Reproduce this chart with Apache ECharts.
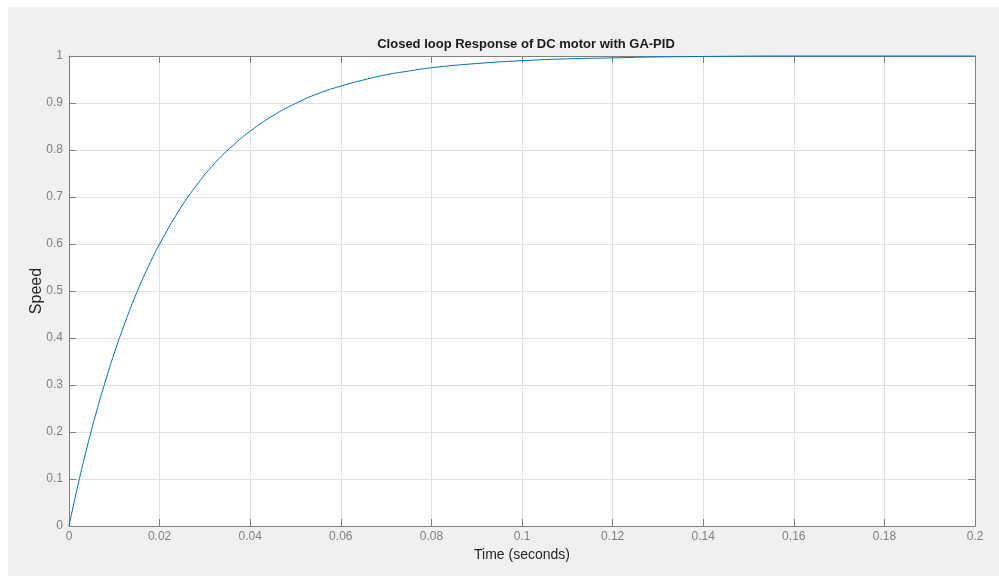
<!DOCTYPE html>
<html>
<head>
<meta charset="utf-8">
<script src="https://cdn.jsdelivr.net/npm/echarts@6/dist/echarts.min.js"></script>
<style>
  html, body { margin: 0; padding: 0; background: #ffffff; }
  #chart { position: absolute; left: 8px; top: 7px; width: 991px; height: 569px; }
</style>
</head>
<body>
<div id="chart"></div>
<script>
// Step response samples: time (s) and speed
const timeValues = [0, 0.002, 0.004, 0.006, 0.008, 0.010, 0.012, 0.014, 0.016, 0.018,
  0.020, 0.024, 0.028, 0.032, 0.036, 0.040, 0.045, 0.050, 0.055, 0.060,
  0.065, 0.070, 0.075, 0.080, 0.090, 0.100, 0.110, 0.120, 0.130, 0.140, 0.160, 0.200];
const speedValues = [0, 0.088, 0.168, 0.241, 0.307, 0.368, 0.423, 0.474, 0.520, 0.562,
  0.600, 0.667, 0.723, 0.770, 0.808, 0.840, 0.873, 0.899, 0.920, 0.936,
  0.949, 0.960, 0.968, 0.975, 0.984, 0.990, 0.994, 0.996, 0.998, 0.999, 1.0, 1.0];

const xTickLabels = ['0', '0.02', '0.04', '0.06', '0.08', '0.1', '0.12', '0.14', '0.16', '0.18', '0.2'];
const yTickLabels = ['0', '0.1', '0.2', '0.3', '0.4', '0.5', '0.6', '0.7', '0.8', '0.9', '1'];

const fontFamily = "'Liberation Sans', Arial, Helvetica, sans-serif";
const axisGray = '#7f7f7f';
const labelGray = '#808080';

function fmtX(v) {
  const i = Math.round(v / 0.02);
  return xTickLabels[i] !== undefined ? xTickLabels[i] : '';
}
function fmtY(v) {
  const i = Math.round(v / 0.1);
  return yTickLabels[i] !== undefined ? yTickLabels[i] : '';
}

// Box axes: keep every axis on its own edge instead of snapping to zero
const tickStyle = { show: true, inside: true, length: 7, lineStyle: { color: axisGray, width: 1 } };
const lineStyleAxis = { show: true, onZero: false, lineStyle: { color: axisGray, width: 1 } };

const chart = echarts.init(document.getElementById('chart'));
chart.setOption({
  backgroundColor: '#f0f0f0',
  animation: false,
  title: {
    text: 'Closed loop Response of DC motor with GA-PID',
    left: 513, top: 26, textAlign: 'center',
    textStyle: { fontFamily, fontSize: 13, fontWeight: 'bold', color: '#1a1a1a' }
  },
  grid: {
    left: 61, right: 24, top: 49, bottom: 50,
    show: true, backgroundColor: '#ffffff', borderWidth: 0
  },
  xAxis: [{
    type: 'value', min: 0, max: 0.2, interval: 0.02, position: 'bottom',
    name: 'Time (seconds)', nameLocation: 'middle', nameGap: 21,
    nameTextStyle: { fontFamily, fontSize: 14, color: '#262626' },
    axisLine: lineStyleAxis,
    axisTick: tickStyle,
    axisLabel: { fontFamily, fontSize: 12, color: labelGray, margin: 5, formatter: fmtX },
    splitLine: { show: true, lineStyle: { color: '#e1e1e1', width: 1 } }
  }, {
    type: 'value', min: 0, max: 0.2, interval: 0.02, position: 'top',
    axisLine: lineStyleAxis,
    axisTick: tickStyle,
    axisLabel: { show: false }, splitLine: { show: false }
  }],
  yAxis: [{
    type: 'value', min: 0, max: 1, interval: 0.1, position: 'left',
    name: 'Speed', nameLocation: 'middle', nameGap: 24, nameRotate: 90,
    nameMoveOverlap: false,
    nameTextStyle: { fontFamily, fontSize: 16, color: '#262626' },
    axisLine: lineStyleAxis,
    axisTick: tickStyle,
    axisLabel: { fontFamily, fontSize: 12, color: labelGray, margin: 6, formatter: fmtY },
    splitLine: { show: true, lineStyle: { color: '#e1e1e1', width: 1 } }
  }, {
    type: 'value', min: 0, max: 1, interval: 0.1, position: 'right',
    axisLine: lineStyleAxis,
    axisTick: tickStyle,
    axisLabel: { show: false }, splitLine: { show: false }
  }],
  series: [{
    type: 'line',
    xAxisIndex: 0, yAxisIndex: 0,
    data: timeValues.map((t, i) => [t, speedValues[i]]),
    showSymbol: false, smooth: true, clip: false,
    lineStyle: { color: '#0072bd', width: 1 },
    z: 5
  }]
});
</script>
</body>
</html>
